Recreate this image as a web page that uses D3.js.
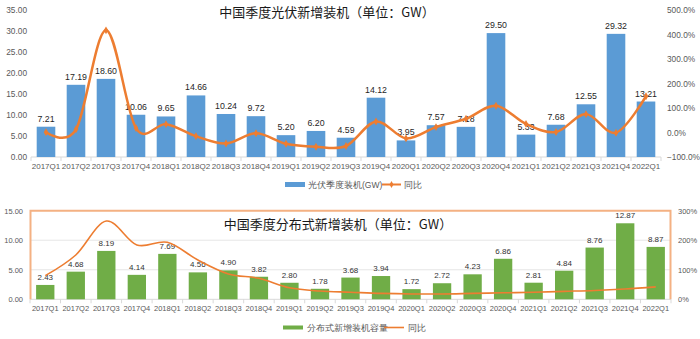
<!DOCTYPE html>
<html>
<head>
<meta charset="utf-8">
<script src="https://cdn.jsdelivr.net/npm/d3@7"></script>
<style>
  body { margin: 0; background: #fff; }
  svg text { font-family: "Liberation Sans", Arial, sans-serif; }
  .cjk { font-family: "Noto Sans CJK SC", sans-serif; }
</style>
</head>
<body>
<script>
(function all (){
  //quarter categories shared by both charts
  var quarters = ["2017Q1","2017Q2","2017Q3","2017Q4","2018Q1","2018Q2","2018Q3","2018Q4",
    "2019Q1","2019Q2","2019Q3","2019Q4","2020Q1","2020Q2","2020Q3","2020Q4",
    "2021Q1","2021Q2","2021Q3","2021Q4","2022Q1"];

  //quarterly PV installs (GW) and yoy (%)
  var pvInstall = [7.21, 17.19, 18.60, 10.06, 9.65, 14.66, 10.24, 9.72, 5.20, 6.20, 4.59, 14.12,
    3.95, 7.57, 7.18, 29.50, 5.33, 7.68, 12.55, 29.32, 13.21];
  var pvYoy = [1, 13, 417, 18, 34, -15, -45, -3, -46, -58, -55, 45, -24, 22, 56, 109, 35, 2, 75, -1, 148];

  //quarterly distributed PV installs (GW) and yoy (%)
  var distInstall = [2.43, 4.68, 8.19, 4.14, 7.69, 4.56, 4.90, 3.82, 2.80, 1.78, 3.68, 3.94,
    1.72, 2.72, 4.23, 6.86, 2.81, 4.84, 8.76, 12.87, 8.87];
  var distYoy = [80, 150, 265, 184, 193, 133, 86, 71, 39, 28, 24, 20, 18, 18, 20, 22, 24, 27, 30, 35, 42];

  //axis ticks
  var topLeftTicks = [0, 5, 10, 15, 20, 25, 30, 35];
  var topRightTicks = [-100, 0, 100, 200, 300, 400, 500];
  var botLeftTicks = [0, 5, 10, 15];
  var botRightTicks = [0, 100, 200, 300];

  var blue = "#5B9BD5", green = "#70AD47", orange = "#ED7D31";

  var svg = d3.select("body").append("svg")
    .attr("width", 700).attr("height", 339);

  var smooth = d3.curveCardinal.tension(0);

  //---------- top chart ----------
  var x1 = d3.scaleBand().domain(quarters).range([31, 661]);
  var yL1 = d3.scaleLinear().domain([0, 35]).range([157, 10]);
  var yR1 = d3.scaleLinear().domain([-100, 500]).range([157, 10]);

  svg.append("text").attr("class", "cjk")
    .attr("x", 327).attr("y", 17).attr("text-anchor", "middle")
    .attr("font-size", 13).attr("fill", "#1a1a1a")
    .text("中国季度光伏新增装机（单位：GW）");

  var g1 = svg.append("g");
  drawAxes(g1, x1, yL1, yR1, topLeftTicks, topRightTicks, 157,
    d3.format(".2f"), function(d){ return d3.format(".1f")(d) + "%"; }, 27, 667, false);

  var bw1 = x1.bandwidth() * 0.62;
  g1.selectAll(".bar").data(pvInstall).enter().append("rect")
    .attr("x", function(d, i){ return x1(quarters[i]) + (x1.bandwidth() - bw1) / 2; })
    .attr("y", function(d){ return yL1(d); })
    .attr("width", bw1)
    .attr("height", function(d){ return yL1(0) - yL1(d); })
    .attr("fill", blue);

  g1.selectAll(".lbl").data(pvInstall).enter().append("text")
    .attr("x", function(d, i){ return x1(quarters[i]) + x1.bandwidth() / 2; })
    .attr("y", function(d){ return yL1(d) - 5; })
    .attr("text-anchor", "middle").attr("font-size", 8.8).attr("fill", "#1f1f1f")
    .text(function(d){ return d3.format(".2f")(d); });

  var line1 = d3.line()
    .x(function(d, i){ return x1(quarters[i]) + x1.bandwidth() / 2; })
    .y(function(d){ return yR1(d); })
    .curve(smooth);
  g1.append("path").datum(pvYoy).attr("d", line1)
    .attr("fill", "none").attr("stroke", orange).attr("stroke-width", 2.5);
  g1.selectAll(".mk").data(pvYoy).enter().append("path")
    .attr("d", d3.symbol().type(d3.symbolDiamond).size(18))
    .attr("transform", function(d, i){
      return "translate(" + (x1(quarters[i]) + x1.bandwidth() / 2) + "," + yR1(d) + ")";
    })
    .attr("fill", orange);

  //top legend
  var lg1 = svg.append("g").attr("class", "cjk").attr("font-size", 8.5).attr("fill", "#595959");
  lg1.append("rect").attr("x", 285).attr("y", 182).attr("width", 20).attr("height", 5).attr("fill", blue);
  lg1.append("text").attr("x", 308).attr("y", 187.5).text("光伏季度装机(GW)");
  lg1.append("line").attr("x1", 382).attr("x2", 401).attr("y1", 184.5).attr("y2", 184.5)
    .attr("stroke", orange).attr("stroke-width", 2);
  lg1.append("path").attr("d", d3.symbol().type(d3.symbolDiamond).size(14))
    .attr("transform", "translate(391.5,184.5)").attr("fill", orange);
  lg1.append("text").attr("x", 404).attr("y", 187.5).text("同比");

  //---------- bottom chart ----------
  var x2 = d3.scaleBand().domain(quarters).range([30, 671]);
  var yL2 = d3.scaleLinear().domain([0, 15]).range([299.3, 210.7]);
  var yR2 = d3.scaleLinear().domain([0, 300]).range([299.3, 210.7]);

  var g2 = svg.append("g");

  //light gridlines
  g2.selectAll(".grid").data(botLeftTicks.slice(1, -1)).enter().append("line")
    .attr("x1", 30).attr("x2", 671)
    .attr("y1", function(d){ return yL2(d); }).attr("y2", function(d){ return yL2(d); })
    .attr("stroke", "#E6E6E6").attr("stroke-width", 1);

  drawAxes(g2, x2, yL2, yR2, botLeftTicks, botRightTicks, 299.3,
    d3.format(".2f"), function(d){ return d + "%"; }, 23, 678, true);

  //orange frame around the plot
  g2.append("path")
    .attr("d", "M30.5," + yL2(0) + "V" + yL2(15) + "H670.5V" + yL2(0))
    .attr("fill", "none").attr("stroke", "#F4B183").attr("stroke-width", 2);

  svg.append("text").attr("class", "cjk")
    .attr("x", 338).attr("y", 229).attr("text-anchor", "middle")
    .attr("font-size", 13).attr("fill", "#1a1a1a")
    .text("中国季度分布式新增装机（单位：GW）");

  var bw2 = x2.bandwidth() * 0.6;
  g2.selectAll(".bar").data(distInstall).enter().append("rect")
    .attr("x", function(d, i){ return x2(quarters[i]) + (x2.bandwidth() - bw2) / 2; })
    .attr("y", function(d){ return yL2(d); })
    .attr("width", bw2)
    .attr("height", function(d){ return yL2(0) - yL2(d); })
    .attr("fill", green);

  g2.selectAll(".lbl").data(distInstall).enter().append("text")
    .attr("x", function(d, i){ return x2(quarters[i]) + x2.bandwidth() / 2; })
    .attr("y", function(d){ return yL2(d) - 5; })
    .attr("text-anchor", "middle").attr("font-size", 8).attr("fill", "#333")
    .text(function(d){ return d3.format(".2f")(d); });

  var line2 = d3.line()
    .x(function(d, i){ return x2(quarters[i]) + x2.bandwidth() / 2; })
    .y(function(d){ return yR2(d); })
    .curve(smooth);
  g2.append("path").datum(distYoy).attr("d", line2)
    .attr("fill", "none").attr("stroke", orange).attr("stroke-width", 1.6);

  //bottom legend
  var lg2 = svg.append("g").attr("class", "cjk").attr("font-size", 8.5).attr("fill", "#595959");
  lg2.append("rect").attr("x", 283).attr("y", 325.5).attr("width", 20).attr("height", 4).attr("fill", green);
  lg2.append("text").attr("x", 307).attr("y", 331).text("分布式新增装机容量");
  lg2.append("line").attr("x1", 384).attr("x2", 404).attr("y1", 327.5).attr("y2", 327.5)
    .attr("stroke", orange).attr("stroke-width", 1.6);
  lg2.append("text").attr("x", 408).attr("y", 331).text("同比");

  //x axis line, category labels and both value axes
  function drawAxes(g, x, yL, yR, lTicks, rTicks, base, lFmt, rFmt, lx, rx, small){
    g.append("line").attr("x1", x.range()[0]).attr("x2", x.range()[1])
      .attr("y1", base).attr("y2", base)
      .attr("stroke", "#D9D9D9").attr("stroke-width", 1);

    g.selectAll(".xt").data(quarters.concat(["end"])).enter().append("line")
      .attr("x1", function(d, i){ return x.range()[0] + i * x.step(); })
      .attr("x2", function(d, i){ return x.range()[0] + i * x.step(); })
      .attr("y1", base).attr("y2", base + 4)
      .attr("stroke", "#D9D9D9");

    g.selectAll(".xl").data(quarters).enter().append("text")
      .attr("x", function(d){ return x(d) + x.bandwidth() / 2; })
      .attr("y", base + 12)
      .attr("text-anchor", "middle")
      .attr("font-size", small ? 7.5 : 8)
      .attr("fill", "#595959")
      .text(function(d){ return d; });

    g.selectAll(".yl").data(lTicks).enter().append("text")
      .attr("x", lx).attr("y", function(d){ return yL(d) + 3; })
      .attr("text-anchor", "end").attr("font-size", small ? 7.5 : 8.3).attr("fill", "#595959")
      .text(lFmt);

    g.selectAll(".yr").data(rTicks).enter().append("text")
      .attr("x", rx).attr("y", function(d){ return yR(d) + 3; })
      .attr("text-anchor", "start").attr("font-size", small ? 7.5 : 8.3).attr("fill", "#595959")
      .text(rFmt);
  }
})();
</script>
</body>
</html>
